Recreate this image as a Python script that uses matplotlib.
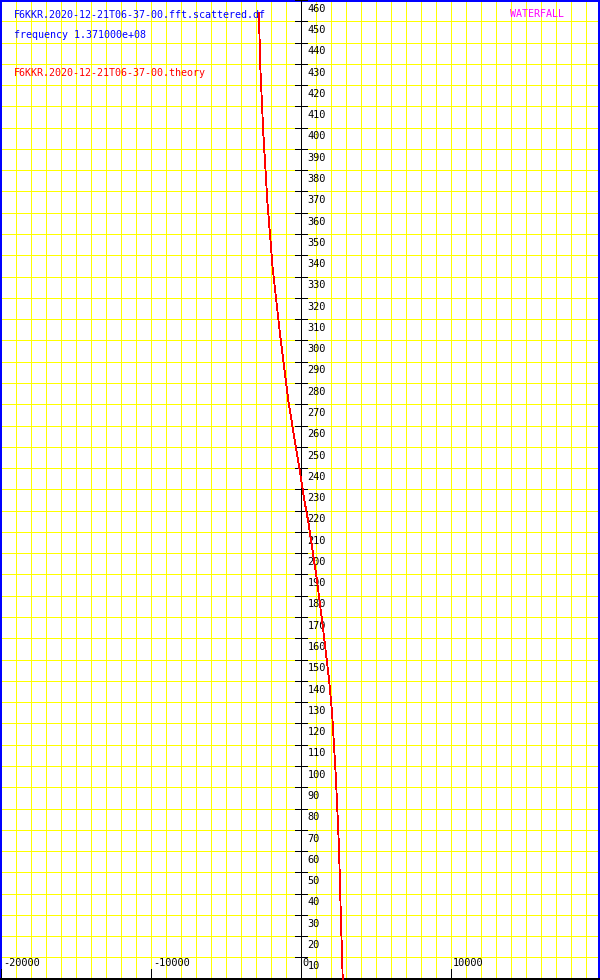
import numpy as np
import matplotlib
matplotlib.use("Agg")
import matplotlib.pyplot as plt

# theory curve: time (y) vs doppler shift in Hz (x)
time_s = [454, 428, 397, 366, 334, 303, 272, 256, 240, 225, 215, 188, 164, 140, 125, 94, 62, 31, 0]
doppler_hz = [-2790, -2690, -2490, -2230, -1870, -1380, -830, -470, -90, 240, 500, 1070,
              1500, 1900, 2090, 2350, 2550, 2670, 2800]

x_ticks = [-20000, -10000, 0, 10000]
y_ticks = list(range(10, 470, 10))
x_grid = list(range(-19000, 20000, 1000))
y_grid = list(range(10, 460, 10))

title_df = "F6KKR.2020-12-21T06-37-00.fft.scattered.df"
title_freq = "frequency 1.371000e+08"
title_theory = "F6KKR.2020-12-21T06-37-00.theory"
mode_label = "WATERFALL"

W, H = 600, 980
plt.rcParams["font.family"] = ["DejaVu Sans Mono"]

fig = plt.figure(figsize=(W / 100, H / 100), dpi=100)
ax = fig.add_axes([0, 0, 1, 1])
ax.set_xlim(-20047, 19953)
ax.set_ylim(-0.6, 460)
ax.set_xticks([])
ax.set_yticks([])

px = 0.72  # one pixel in points

# yellow grid
ax.vlines(x_grid, -0.6, 460, colors="#ffff00", lw=px, antialiased=False, zorder=1)
ax.hlines(y_grid, -20047, 19953, colors="#ffff00", lw=px, antialiased=False, zorder=1)

# axes through zero
ax.axvline(0, color="black", lw=px, antialiased=False, zorder=3)
ax.axhline(0, color="black", lw=px * 1.5, antialiased=False, zorder=3)

# y ticks and labels on the centre axis
ax.hlines(y_ticks, -400, 400, colors="black", lw=px, antialiased=False, zorder=3)
for v in y_ticks:
    ax.annotate(str(v), xy=(0, v), xytext=(5.0, -6.3), textcoords="offset points",
                ha="left", va="center", fontsize=7.4, color="black", zorder=4)

# x ticks and labels on the bottom axis
ax.vlines(x_ticks, 0, 4.7, colors="black", lw=px, antialiased=False, zorder=3)
for v in x_ticks:
    ax.annotate(str(v), xy=(v, 0), xytext=(1.5, 11.0), textcoords="offset points",
                ha="left", va="center", fontsize=7.4, color="black", zorder=4)

# theory curve
ax.plot(doppler_hz, time_s, color="red", lw=0.6, antialiased=False, zorder=5)

# blue frame (bottom is the black x axis)
for side in ["left", "top", "right"]:
    ax.spines[side].set_color("blue")
    ax.spines[side].set_linewidth(px * 4)
ax.spines["bottom"].set_visible(False)

fig.text(14 / W, 1 - 17.5 / H, title_df, color="blue", fontsize=7.2, va="baseline")
fig.text(14 / W, 1 - 37.5 / H, title_freq, color="blue", fontsize=7.2, va="baseline")
fig.text(14 / W, 1 - 76 / H, title_theory, color="red", fontsize=7.2, va="baseline")
fig.text(510 / W, 1 - 17 / H, mode_label, color="magenta", fontsize=7.2, va="baseline")

fig.savefig("out.png", dpi=100)
